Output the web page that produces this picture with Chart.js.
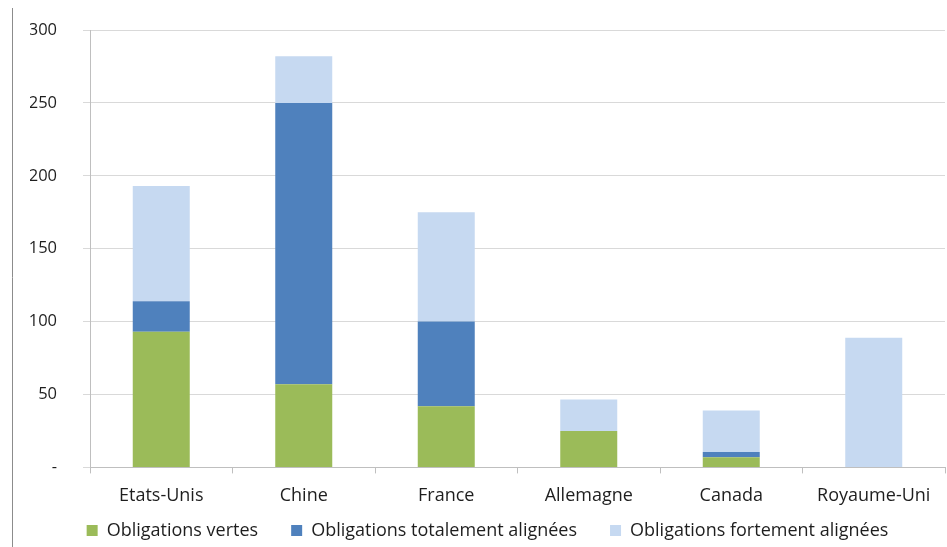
<!DOCTYPE html>
<html>
<head>
<meta charset="utf-8">
<script src="https://cdn.jsdelivr.net/npm/chart.js@4/dist/chart.umd.min.js"></script>
<style>
  html, body { margin: 0; padding: 0; background: #fff; }
  #wrap { width: 947px; height: 547px; position: relative; }
</style>
</head>
<body>
<div id="wrap"><canvas id="chart" width="947" height="547"></canvas></div>
<script>
/*Data*/
var categories = ['Etats-Unis', 'Chine', 'France', 'Allemagne', 'Canada', 'Royaume-Uni'];
var seriesNames = ['Obligations vertes', 'Obligations totalement alignées', 'Obligations fortement alignées'];
var vertes = [93, 57, 42, 25, 7, 0];
var totalement = [21, 193, 58, 0, 3.5, 0];
var fortement = [79, 32, 75, 21.5, 28.5, 89];
var yTicks = [0, 50, 100, 150, 200, 250, 300];

var colors = ['#9BBB59', '#4F81BD', '#C6D9F1'];
var fontFamily = '"Open Sans", sans-serif';
var textColor = '#1e1e1e';

/*Left frame line (page artifact)*/
var frameLine = {
    id: 'frameLine',
    beforeDraw: function(chart) {
        var ctx = chart.ctx;
        ctx.save();
        ctx.strokeStyle = '#8c8c8c';
        ctx.lineWidth = 1;
        ctx.beginPath();
        ctx.moveTo(12.5, 8);
        ctx.lineTo(12.5, 547);
        ctx.stroke();
        ctx.restore();
    }
};

/*Legend sits closer to the axis labels than Chart.js would put it*/
var legendShift = {
    id: 'legendShift',
    afterLayout: function(chart) {
        var legend = chart.legend;
        if (!legend) return;
        var h = legend.height;
        legend.top = chart.chartArea.bottom + 21;
        legend.bottom = legend.top + h;
    }
};

var ctx = document.getElementById('chart').getContext('2d');
new Chart(ctx, {
    type: 'bar',
    data: {
        labels: categories,
        datasets: [
            { label: seriesNames[0], data: vertes, backgroundColor: colors[0] },
            { label: seriesNames[1], data: totalement, backgroundColor: colors[1] },
            { label: seriesNames[2], data: fortement, backgroundColor: colors[2] }
        ]
    },
    options: {
        responsive: false,
        animation: false,
        devicePixelRatio: 1,
        datasets: { bar: { categoryPercentage: 1, barPercentage: 0.4 } },
        layout: { padding: { top: 30, right: 2, left: 30, bottom: -33 } },
        plugins: {
            tooltip: { enabled: false },
            legend: {
                position: 'bottom',
                labels: {
                    boxWidth: 11,
                    boxHeight: 11,
                    padding: 33,
                    color: textColor,
                    font: { family: fontFamily, size: 18 }
                }
            }
        },
        scales: {
            x: {
                stacked: true,
                grid: {
                    offset: true,
                    drawOnChartArea: false,
                    tickLength: 6,
                    color: '#bfbfbf'
                },
                border: { color: '#bfbfbf' },
                ticks: {
                    color: textColor,
                    padding: 12,
                    maxRotation: 0,
                    font: { family: fontFamily, size: 18 }
                }
            },
            y: {
                stacked: true,
                min: 0,
                max: 300,
                afterFit: function(scale) {
                    scale.width = 60;
                    scale.paddingTop = 0;
                    scale.paddingBottom = 0;
                },
                afterBuildTicks: function(scale) {
                    scale.ticks = yTicks.map(function(v) { return { value: v }; });
                },
                grid: {
                    color: '#d9d9d9',
                    tickLength: 7
                },
                border: { color: '#bfbfbf' },
                ticks: {
                    color: textColor,
                    padding: 26,
                    font: { family: fontFamily, size: 16.5 },
                    callback: function(v) { return v === 0 ? '-' : v; }
                }
            }
        }
    },
    plugins: [frameLine, legendShift]
});
</script>
</body>
</html>
